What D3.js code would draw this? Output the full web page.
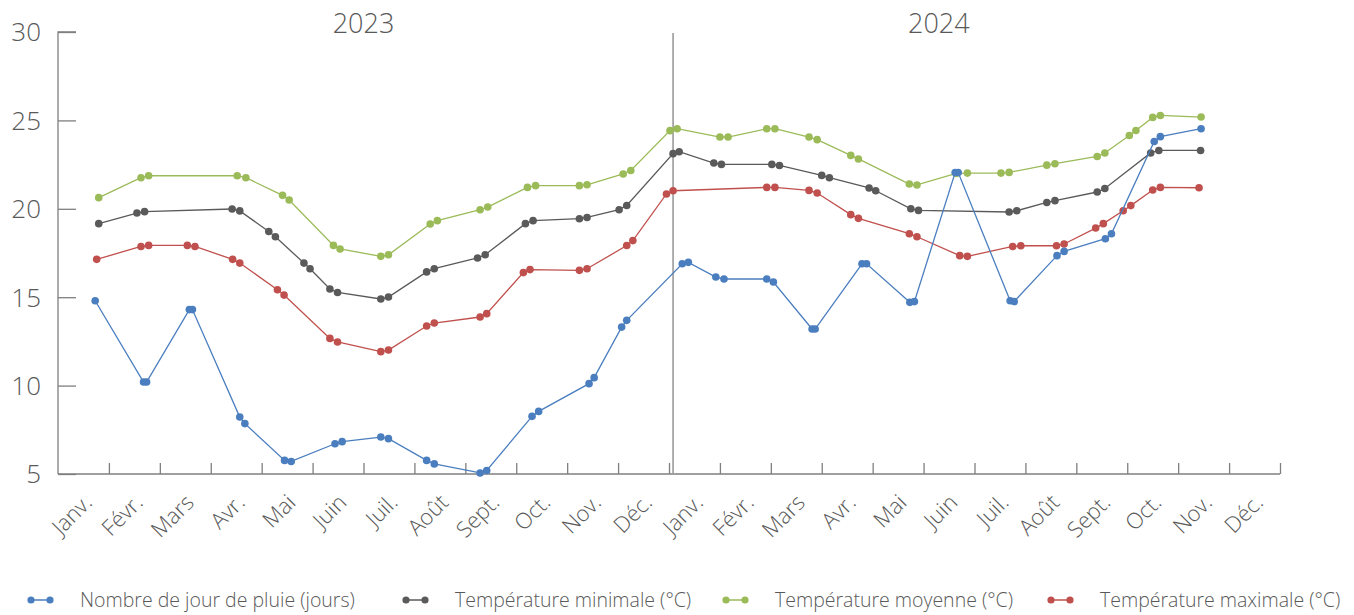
<!DOCTYPE html>
<html><head><meta charset="utf-8">
<script src="https://cdn.jsdelivr.net/npm/d3@7"></script>
<style>
html,body{margin:0;padding:0;background:#fff;}
svg{display:block;font-family:"Open Sans",Lato,sans-serif;font-weight:300;}
</style></head><body>
<svg id="chart" width="1354" height="615"></svg>
<script>
// ---- data ----
const months = ["Janv.","Févr.","Mars","Avr.","Mai","Juin","Juil.","Août","Sept.","Oct.","Nov.","Déc.",
                "Janv.","Févr.","Mars","Avr.","Mai","Juin","Juil.","Août","Sept.","Oct.","Nov.","Déc."];
const years = ["2023","2024"];
const yearPos = [6, 17.3];
const yearDivider = 12.08;
const yTicks = [5,10,15,20,25,30];
const seriesNames = ["Nombre de jour de pluie (jours)","Température minimale (°C)","Température moyenne (°C)","Température maximale (°C)"];

// time position in months since Jan 2023
const rainPos = [0.73,1.68,1.74,2.58,2.64,3.57,3.67,4.45,4.58,5.44,5.58,6.34,6.49,7.24,7.39,8.29,8.42,9.31,9.44,10.43,10.53,11.07,11.17,12.26,12.38,12.92,13.08,13.92,14.05,14.81,14.87,15.79,15.88,16.73,16.82,17.62,17.68,18.70,18.78,19.62,19.76,20.57,20.69,21.53,21.65,22.45];
const rainVal = [14.8,10.2,10.2,14.3,14.3,8.22,7.85,5.77,5.71,6.71,6.83,7.09,7.0,5.77,5.57,5.06,5.2,8.26,8.54,10.11,10.45,13.31,13.69,16.89,16.97,16.14,16.03,16.03,15.86,13.2,13.2,16.89,16.89,14.71,14.75,22.05,22.05,14.8,14.76,17.35,17.59,18.31,18.59,23.81,24.08,24.53];

const minPos = [0.8,1.55,1.7,3.42,3.57,4.14,4.27,4.83,4.95,5.34,5.49,6.34,6.49,7.24,7.39,8.24,8.39,9.18,9.33,10.24,10.39,11.02,11.17,12.08,12.2,12.88,13.03,14.02,14.17,15.0,15.15,15.93,16.06,16.75,16.9,18.68,18.83,19.42,19.58,20.41,20.56,21.46,21.62,22.44];
const minVal = [19.16,19.76,19.84,19.99,19.88,18.72,18.42,16.93,16.61,15.46,15.27,14.9,15.01,16.43,16.61,17.22,17.4,19.16,19.33,19.44,19.51,19.95,20.19,23.12,23.23,22.59,22.51,22.51,22.45,21.89,21.76,21.18,21.02,20.0,19.91,19.82,19.89,20.36,20.46,20.95,21.15,23.16,23.3,23.3];

const meanPos = [0.8,1.63,1.78,3.52,3.69,4.41,4.54,5.41,5.54,6.34,6.49,7.31,7.45,8.29,8.44,9.22,9.38,10.24,10.39,11.1,11.25,12.02,12.16,13.0,13.16,13.92,14.08,14.75,14.91,15.57,15.72,16.72,16.87,17.64,17.86,18.52,18.68,19.42,19.58,20.41,20.56,21.04,21.17,21.5,21.65,22.45];
const meanVal = [20.63,21.76,21.87,21.87,21.76,20.76,20.5,17.93,17.73,17.31,17.4,19.14,19.33,19.95,20.1,21.21,21.31,21.31,21.36,21.97,22.17,24.42,24.53,24.06,24.06,24.53,24.53,24.06,23.91,23.02,22.82,21.4,21.35,22.0,22.02,22.02,22.06,22.47,22.55,22.96,23.16,24.15,24.43,25.17,25.28,25.19];

const maxPos = [0.76,1.63,1.78,2.54,2.69,3.43,3.57,4.31,4.44,5.34,5.49,6.34,6.49,7.24,7.39,8.29,8.42,9.14,9.27,10.24,10.39,11.17,11.29,11.95,12.08,13.92,14.08,14.75,14.91,15.57,15.72,16.72,16.87,17.71,17.86,18.75,18.91,19.61,19.76,20.38,20.53,20.92,21.07,21.5,21.65,22.41];
const maxVal = [17.14,17.87,17.93,17.93,17.87,17.14,16.93,15.42,15.12,12.67,12.47,11.92,12.01,13.37,13.54,13.88,14.07,16.39,16.56,16.52,16.61,17.92,18.2,20.84,21.02,21.21,21.21,21.04,20.89,19.67,19.46,18.59,18.42,17.35,17.31,17.87,17.91,17.91,18.01,18.91,19.16,19.89,20.18,21.06,21.21,21.19];

const colors = ["#4A7EBF","#5A5A5A","#9BBB59","#C0504D"];

// ---- chart ----
const svg = d3.select("#chart");
const x = d3.scaleLinear().domain([0,24]).range([58,1280]);
const y = d3.scaleLinear().domain([5,30]).range([474,32]);
const axisColor = "#7F7F7F";
const textColor = "#595959";

// y axis
const yAxis = svg.append("g").attr("transform",`translate(${x(0)},0)`)
  .call(d3.axisRight(y).tickValues(yTicks).tickSize(18).tickFormat(""));
yAxis.select(".domain").attr("stroke",axisColor).attr("stroke-width",1.3).attr("d",`M18,${y(30)}H0V${y(5)}`);
yAxis.selectAll(".tick line").attr("stroke",axisColor).attr("stroke-width",1.3);
svg.append("g").selectAll("text").data(yTicks).join("text")
  .attr("x",41).attr("y",d=>y(d)).attr("dy","0.36em").attr("text-anchor","end")
  .attr("font-size",26).attr("fill",textColor).text(d=>d);

// x axis
const xAxis = svg.append("g").attr("transform",`translate(0,${y(5)})`)
  .call(d3.axisTop(x).tickValues(d3.range(1,25)).tickSize(11).tickFormat(""));
xAxis.select(".domain").attr("stroke",axisColor).attr("stroke-width",1.3).attr("d",`M${x(0)},0H${x(24)}`);
xAxis.selectAll(".tick line").attr("stroke",axisColor).attr("stroke-width",1.3);

// month labels
svg.append("g").selectAll("text").data(months).join("text")
  .attr("transform",(d,i)=>`translate(${x(i+0.5)-1},${y(5)+19}) rotate(-45)`)
  .attr("text-anchor","end").attr("dy","0.7em").attr("font-size",22).attr("fill",textColor).text(d=>d);

// year divider
svg.append("line").attr("x1",x(yearDivider)).attr("x2",x(yearDivider)).attr("y1",y(30)+1).attr("y2",y(5))
  .attr("stroke","#9A9A9A").attr("stroke-width",1.6);

// year labels
svg.append("g").selectAll("text").data(years).join("text")
  .attr("x",(d,i)=>x(yearPos[i])).attr("y",23).attr("dy","0.36em").attr("text-anchor","middle")
  .attr("font-size",27).attr("fill",textColor).text(d=>d);

// series
const series = [
  {pos:rainPos,val:rainVal},
  {pos:minPos,val:minVal},
  {pos:meanPos,val:meanVal},
  {pos:maxPos,val:maxVal}
];
const drawOrder = [1,2,3,0];
const line = d3.line().x(d=>x(d[0])).y(d=>y(d[1]));
drawOrder.forEach(si=>{
  const s = series[si];
  const pts = s.pos.map((p,i)=>[p,s.val[i]]);
  const g = svg.append("g");
  g.append("path").attr("d",line(pts)).attr("fill","none").attr("stroke",colors[si]).attr("stroke-width",1.3);
  g.selectAll("circle").data(pts).join("circle")
    .attr("cx",d=>x(d[0])).attr("cy",d=>y(d[1])).attr("r",3.8).attr("fill",colors[si]);
});

// legend
const legX = [28,403,723,1048];
const lg = svg.append("g");
seriesNames.forEach((name,i)=>{
  const g = lg.append("g").attr("transform",`translate(${legX[i]},600)`);
  g.append("line").attr("x1",2).attr("x2",23).attr("stroke",colors[i]).attr("stroke-width",1.5);
  g.append("circle").attr("cx",3).attr("r",3.6).attr("fill",colors[i]);
  g.append("circle").attr("cx",22).attr("r",3.6).attr("fill",colors[i]);
  g.append("text").attr("x",52).attr("dy","0.36em").attr("font-size",19.5).attr("fill",textColor).text(name);
});
</script>
</body></html>
